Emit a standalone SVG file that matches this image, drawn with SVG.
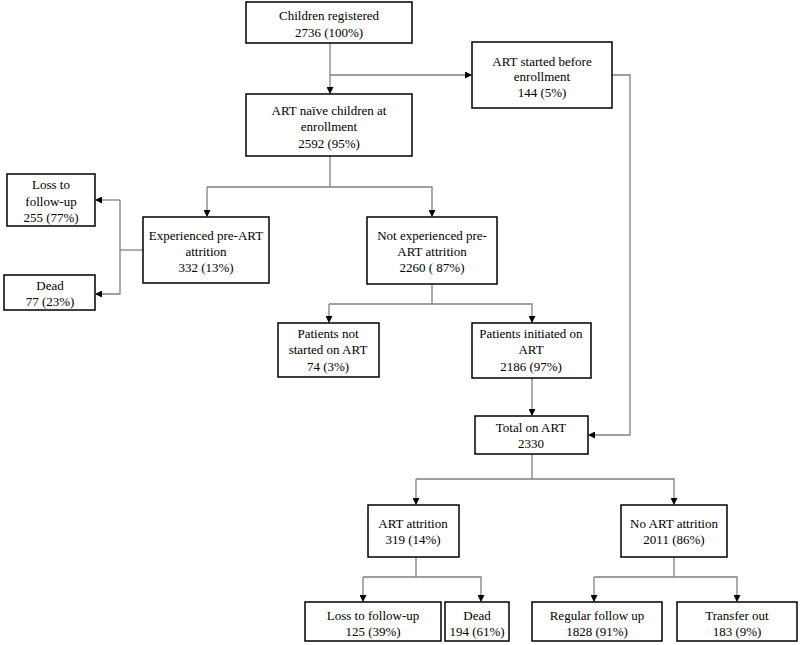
<svg xmlns="http://www.w3.org/2000/svg" width="800" height="645" viewBox="0 0 800 645">
<defs>
<marker id="ah" markerWidth="7" markerHeight="7" refX="6" refY="3.5" orient="auto" markerUnits="userSpaceOnUse">
<path d="M0,0 L7,3.5 L0,7 Z" fill="#000"/>
</marker>
<style>
.box{fill:#fff;stroke:#000;stroke-width:1.5}
.t{font-size:13px;fill:#000;text-anchor:middle}
.c{fill:none;stroke:#808080;stroke-width:1.3}
.a{marker-end:url(#ah)}
</style>
</defs>
<rect width="800" height="645" fill="#fff"/>
<g id="connectors">
<path class="c a" d="M330,43 V93"/>
<path class="c a" d="M330,75 H471"/>
<path class="c a" d="M612,75 H630 V435 H589"/>
<path class="c" d="M330,156 V187 H207"/>
<path class="c a" d="M207,187 V216"/>
<path class="c a" d="M330,187 H432 V216"/>
<path class="c" d="M143,250 H120"/>
<path class="c a" d="M120,200 H96"/>
<path class="c a" d="M120,200 V294 H96"/>
<path class="c" d="M432,285 V304 H329"/>
<path class="c a" d="M329,304 V322"/>
<path class="c a" d="M432,304 H532 V322"/>
<path class="c a" d="M532,378 V415"/>
<path class="c" d="M532,454 V479 H416"/>
<path class="c a" d="M416,479 V504"/>
<path class="c a" d="M532,479 H674 V504"/>
<path class="c" d="M416,557 V577 H363"/>
<path class="c a" d="M363,577 V601"/>
<path class="c a" d="M416,577 H481 V601"/>
<path class="c" d="M674,557 V577 H594"/>
<path class="c a" d="M594,577 V601"/>
<path class="c a" d="M674,577 H737 V601"/>
</g>
<g font-family="'Liberation Serif', 'Times New Roman', 'DejaVu Serif', serif">
<g id="n1"><rect class="box" x="246" y="2" width="166" height="41"/>
<text class="t" x="329" y="20">Children registered</text><text class="t" x="329" y="37">2736 (100%)</text></g>
<g id="n2"><rect class="box" x="472" y="42" width="140" height="66"/>
<text class="t" x="542" y="66">ART started before</text><text class="t" x="542" y="81">enrollment</text><text class="t" x="542" y="97">144 (5%)</text></g>
<g id="n3"><rect class="box" x="246" y="94" width="166" height="62"/>
<text class="t" x="329" y="115">ART naïve children at</text><text class="t" x="329" y="131">enrollment</text><text class="t" x="329" y="148">2592  (95%)</text></g>
<g id="n4"><rect class="box" x="7" y="174" width="88" height="52"/>
<text class="t" x="51" y="189">Loss to</text><text class="t" x="51" y="206">follow-up</text><text class="t" x="51" y="222">255  (77%)</text></g>
<g id="n5"><rect class="box" x="4" y="275" width="91" height="35"/>
<text class="t" x="50" y="290">Dead</text><text class="t" x="50" y="306">77 (23%)</text></g>
<g id="n6"><rect class="box" x="143" y="217" width="126" height="66"/>
<text class="t" x="206" y="239.5">Experienced pre-ART</text><text class="t" x="206" y="255.5">attrition</text><text class="t" x="206" y="271.5">332 (13%)</text></g>
<g id="n7"><rect class="box" x="367" y="217" width="130" height="67"/>
<text class="t" x="432" y="239.5">Not experienced pre-</text><text class="t" x="432" y="255.5">ART attrition</text><text class="t" x="432" y="271.5">2260 ( 87%)</text></g>
<g id="n8"><rect class="box" x="278" y="323" width="101" height="54"/>
<text class="t" x="328" y="338">Patients not</text><text class="t" x="328" y="354">started on ART</text><text class="t" x="328" y="371">74 (3%)</text></g>
<g id="n9"><rect class="box" x="472" y="323" width="119" height="55"/>
<text class="t" x="531" y="338">Patients initiated on</text><text class="t" x="531" y="354">ART</text><text class="t" x="531" y="371">2186  (97%)</text></g>
<g id="n10"><rect class="box" x="475" y="416" width="113" height="38"/>
<text class="t" x="531" y="432">Total  on ART</text><text class="t" x="531" y="448">2330</text></g>
<g id="n11"><rect class="box" x="368" y="505" width="91" height="52"/>
<text class="t" x="413" y="528">ART attrition</text><text class="t" x="413" y="544">319 (14%)</text></g>
<g id="n12"><rect class="box" x="621" y="505" width="106" height="52"/>
<text class="t" x="674" y="528">No ART attrition</text><text class="t" x="674" y="544">2011 (86%)</text></g>
<g id="n13"><rect class="box" x="305" y="602" width="136" height="39"/>
<text class="t" x="373" y="620">Loss to follow-up</text><text class="t" x="373" y="636">125 (39%)</text></g>
<g id="n14"><rect class="box" x="445" y="602" width="64" height="39"/>
<text class="t" x="477" y="620">Dead</text><text class="t" x="477" y="636">194 (61%)</text></g>
<g id="n15"><rect class="box" x="532" y="602" width="130" height="39"/>
<text class="t" x="597" y="620">Regular follow up</text><text class="t" x="597" y="636">1828 (91%)</text></g>
<g id="n16"><rect class="box" x="677" y="602" width="120" height="39"/>
<text class="t" x="737" y="620">Transfer out</text><text class="t" x="737" y="636">183  (9%)</text></g>
</g>
</svg>
